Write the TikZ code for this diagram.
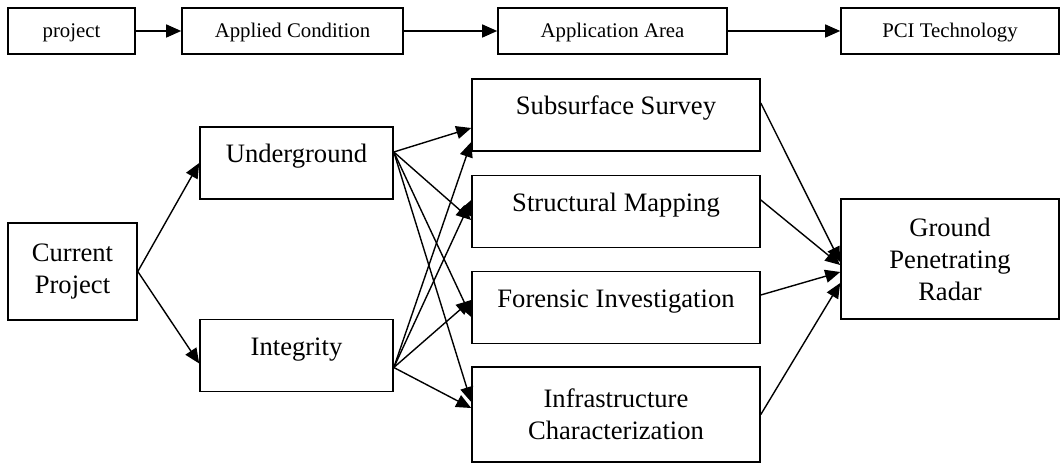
\documentclass[tikz,border=0pt]{standalone}
\usepackage{fontspec}
\setmainfont{Liberation Serif}
\usepackage{xcolor}
\usetikzlibrary{arrows.meta, positioning}

\begin{document}
\begin{tikzpicture}[x=0.5pt, y=-0.5pt,
    box/.style={draw=black, line width=0.8pt, inner sep=0pt, align=center,
                font=\fontsize{13.3}{16}\selectfont},
    headbox/.style={box, minimum height=23pt, text height=15pt, text depth=8pt,
                font=\fontsize{10.4}{12.5}\selectfont},
    onebox/.style={box, text height=18pt, text depth=18pt},
    link/.style={-{Triangle[length=7.5pt, width=6.5pt]}, line width=0.7pt}]
  \useasboundingbox (0,0) rectangle (1060,464);

  % header row
  \node[headbox, minimum width=63.5pt]  (hproj) at (71.5,31)  {project};
  \node[headbox, minimum width=110.5pt] (hcond) at (292.5,31) {Applied Condition};
  \node[headbox, minimum width=114.5pt] (harea) at (612.5,31) {Application Area};
  \node[headbox, minimum width=109pt]   (htech) at (950,31)   {PCI Technology};
  \draw[link] (hproj.east) -- (hcond.west);
  \draw[link] (hcond.east) -- (harea.west);
  \draw[link] (harea.east) -- (htech.west);

  % project and conditions
  \node[box, minimum width=64.5pt, minimum height=48.5pt] (cproj) at (72.5,271.5) {Current\\Project};
  \node[onebox, minimum width=96.5pt] (under) at (296.5,163)   {Underground};
  \node[onebox, minimum width=96.5pt] (integ) at (296.5,355.5) {Integrity};

  % application areas
  \node[onebox, minimum width=144pt] (subs) at (616,115)   {Subsurface Survey};
  \node[onebox, minimum width=144pt] (strc) at (616,211.5) {Structural Mapping};
  \node[onebox, minimum width=144pt] (fore) at (616,307.5) {Forensic Investigation};
  \node[box, minimum width=144pt, minimum height=47.5pt] (infr) at (616,414.5) {Infrastructure\\Characterization};

  % technology
  \node[box, minimum width=109pt, minimum height=60pt] (gpr) at (950,259) {Ground\\Penetrating\\Radar};

  \draw[link] (cproj.east) -- (under.west);
  \draw[link] (cproj.east) -- ([yshift=-4pt]integ.west);

  \draw[link] ([yshift=5.5pt]under.east) -- ([yshift=-6.5pt]subs.west);
  \draw[link] ([yshift=5.5pt]under.east) -- ([yshift=-4.25pt]strc.west);
  \draw[link] ([yshift=5.5pt]under.east) -- ([yshift=-4.75pt]fore.west);
  \draw[link] ([yshift=5.5pt]under.east) -- ([yshift=6.25pt]infr.west);

  \draw[link] ([yshift=-6pt]integ.east) -- ([yshift=-13.5pt]subs.west);
  \draw[link] ([yshift=-6pt]integ.east) -- ([yshift=5.75pt]strc.west);
  \draw[link] ([yshift=-6pt]integ.east) -- ([yshift=3.75pt]fore.west);
  \draw[link] ([yshift=-6pt]integ.east) -- ([yshift=3.25pt]infr.west);

  \draw[link] ([yshift=6pt]subs.east)    -- ([yshift=-1.5pt]gpr.west);
  \draw[link] ([yshift=5.75pt]strc.east) -- ([yshift=-3pt]gpr.west);
  \draw[link] ([yshift=6.25pt]fore.east) -- ([yshift=-6.5pt]gpr.west);
  \draw[link] (infr.east)                -- ([yshift=-12pt]gpr.west);
\end{tikzpicture}
\end{document}
